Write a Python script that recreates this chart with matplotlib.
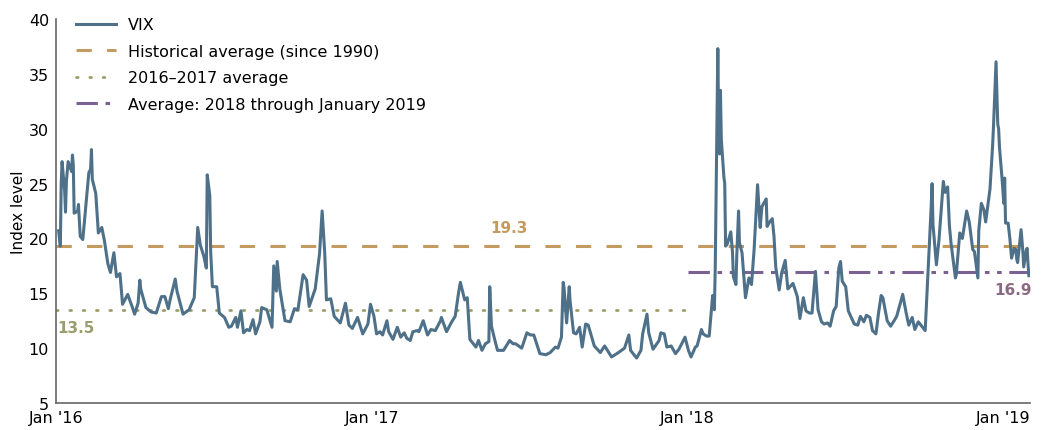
import pandas as pd
import matplotlib
matplotlib.use('Agg')
import matplotlib.pyplot as plt

plt.rcParams['font.family'] = ['DejaVu Sans']

# VIX readings (approximate)
dates_2016 = ['2016-01-04', '2016-01-06', '2016-01-07', '2016-01-08', '2016-01-11', '2016-01-12', '2016-01-13', '2016-01-15',
              '2016-01-19', '2016-01-20', '2016-01-21', '2016-01-22', '2016-01-26', '2016-01-27', '2016-01-29', '2016-02-01',
              '2016-02-03', '2016-02-05', '2016-02-08', '2016-02-10', '2016-02-11', '2016-02-12', '2016-02-16', '2016-02-19',
              '2016-02-23', '2016-02-26', '2016-03-01', '2016-03-04', '2016-03-08', '2016-03-11', '2016-03-15', '2016-03-18',
              '2016-03-24', '2016-03-29', '2016-04-01', '2016-04-05', '2016-04-07', '2016-04-08', '2016-04-14', '2016-04-20',
              '2016-04-26', '2016-05-02', '2016-05-06', '2016-05-10', '2016-05-12', '2016-05-18', '2016-05-20', '2016-05-27',
              '2016-06-03', '2016-06-09', '2016-06-13', '2016-06-16', '2016-06-20', '2016-06-23', '2016-06-24', '2016-06-27',
              '2016-06-28', '2016-06-30', '2016-07-05', '2016-07-08', '2016-07-14', '2016-07-19', '2016-07-22', '2016-07-27',
              '2016-07-29', '2016-08-02', '2016-08-05', '2016-08-09', '2016-08-12', '2016-08-16', '2016-08-19', '2016-08-24',
              '2016-08-26', '2016-09-01', '2016-09-07', '2016-09-09', '2016-09-12', '2016-09-13', '2016-09-16', '2016-09-22',
              '2016-09-28', '2016-10-03', '2016-10-07', '2016-10-13', '2016-10-17', '2016-10-20', '2016-10-27', '2016-11-01',
              '2016-11-04', '2016-11-07', '2016-11-09', '2016-11-14', '2016-11-18', '2016-11-25', '2016-12-01', '2016-12-05',
              '2016-12-09', '2016-12-15', '2016-12-21', '2016-12-27', '2016-12-30']
vix_2016 = [20.7, 19.3, 25.0, 27.0, 24.3, 22.4, 25.2, 27.0,
            26.1, 27.6, 26.7, 22.3, 22.5, 23.1, 20.2, 19.9,
            21.7, 23.4, 26.0, 26.3, 28.1, 25.4, 24.1, 20.5,
            21.0, 19.8, 17.7, 16.9, 18.7, 16.5, 16.8, 14.0,
            14.9, 13.8, 13.1, 14.1, 16.2, 15.4, 13.7, 13.3,
            13.2, 14.7, 14.7, 13.6, 14.4, 16.3, 15.2, 13.1,
            13.5, 14.6, 21.0, 19.4, 18.4, 17.3, 25.8, 23.9,
            18.8, 15.6, 15.6, 13.2, 12.8, 11.9, 12.0, 12.8,
            11.9, 13.4, 11.4, 11.7, 11.6, 12.6, 11.3, 12.4,
            13.7, 13.5, 11.9, 17.5, 15.2, 17.9, 15.4, 12.5,
            12.4, 13.6, 13.5, 16.7, 16.2, 13.8, 15.4, 18.6,
            22.5, 18.7, 14.4, 14.5, 12.9, 12.3, 14.1, 12.1,
            11.8, 12.8, 11.3, 12.2, 14.0]

dates_2017 = ['2017-01-03', '2017-01-06', '2017-01-10', '2017-01-13', '2017-01-18', '2017-01-20', '2017-01-25', '2017-01-30',
              '2017-02-03', '2017-02-07', '2017-02-10', '2017-02-14', '2017-02-17', '2017-02-22', '2017-02-24', '2017-03-01',
              '2017-03-06', '2017-03-10', '2017-03-15', '2017-03-21', '2017-03-22', '2017-03-28', '2017-04-03', '2017-04-07',
              '2017-04-11', '2017-04-13', '2017-04-18', '2017-04-21', '2017-04-24', '2017-05-01', '2017-05-04', '2017-05-08',
              '2017-05-12', '2017-05-16', '2017-05-17', '2017-05-19', '2017-05-23', '2017-05-26', '2017-06-02', '2017-06-09',
              '2017-06-13', '2017-06-16', '2017-06-23', '2017-06-29', '2017-07-03', '2017-07-07', '2017-07-14', '2017-07-21',
              '2017-07-26', '2017-08-01', '2017-08-04', '2017-08-08', '2017-08-10', '2017-08-11', '2017-08-14', '2017-08-17',
              '2017-08-18', '2017-08-22', '2017-08-25', '2017-08-29', '2017-09-01', '2017-09-05', '2017-09-08', '2017-09-15',
              '2017-09-22', '2017-09-27', '2017-10-05', '2017-10-13', '2017-10-20', '2017-10-25', '2017-10-27', '2017-11-03',
              '2017-11-08', '2017-11-10', '2017-11-15', '2017-11-17', '2017-11-22', '2017-11-29', '2017-12-01', '2017-12-05',
              '2017-12-08', '2017-12-13', '2017-12-18', '2017-12-22', '2017-12-29']
vix_2017 = [12.9, 11.3, 11.5, 11.2, 12.5, 11.5, 10.8, 11.9,
            11.0, 11.4, 10.9, 10.7, 11.5, 11.6, 11.5, 12.5,
            11.2, 11.7, 11.6, 12.5, 12.8, 11.5, 12.4, 12.9,
            15.1, 16.0, 14.4, 14.6, 10.8, 10.1, 10.7, 9.8,
            10.4, 10.6, 15.6, 12.0, 10.7, 9.8, 9.8, 10.7,
            10.4, 10.4, 10.0, 11.4, 11.2, 11.2, 9.5, 9.4,
            9.6, 10.1, 10.0, 11.0, 16.0, 15.5, 12.3, 15.6,
            14.3, 11.4, 11.3, 11.9, 10.1, 12.2, 12.1, 10.2,
            9.6, 10.2, 9.2, 9.6, 10.0, 11.2, 9.8, 9.1,
            9.8, 11.3, 13.1, 11.4, 9.9, 10.7, 11.4, 11.3,
            10.1, 10.2, 9.5, 9.9, 11.0]

dates_2018 = ['2018-01-02', '2018-01-05', '2018-01-10', '2018-01-12', '2018-01-17', '2018-01-19', '2018-01-23', '2018-01-26',
              '2018-01-29', '2018-01-30', '2018-02-01', '2018-02-02', '2018-02-05', '2018-02-06', '2018-02-07', '2018-02-08',
              '2018-02-09', '2018-02-12', '2018-02-13', '2018-02-14', '2018-02-16', '2018-02-20', '2018-02-22', '2018-02-23',
              '2018-02-26', '2018-02-27', '2018-03-01', '2018-03-02', '2018-03-05', '2018-03-09', '2018-03-13', '2018-03-16',
              '2018-03-19', '2018-03-22', '2018-03-23', '2018-03-26', '2018-03-28', '2018-04-02', '2018-04-03', '2018-04-06',
              '2018-04-09', '2018-04-11', '2018-04-13', '2018-04-17', '2018-04-20', '2018-04-24', '2018-04-27', '2018-05-03',
              '2018-05-08', '2018-05-11', '2018-05-15', '2018-05-18', '2018-05-22', '2018-05-25', '2018-05-29', '2018-06-01',
              '2018-06-05', '2018-06-08', '2018-06-12', '2018-06-15', '2018-06-19', '2018-06-22', '2018-06-25', '2018-06-27',
              '2018-06-29', '2018-07-03', '2018-07-06', '2018-07-10', '2018-07-13', '2018-07-17', '2018-07-20', '2018-07-24',
              '2018-07-27', '2018-07-31', '2018-08-03', '2018-08-07', '2018-08-10', '2018-08-13', '2018-08-15', '2018-08-20',
              '2018-08-24', '2018-08-28', '2018-08-31', '2018-09-07', '2018-09-11', '2018-09-14', '2018-09-18', '2018-09-21',
              '2018-09-25', '2018-09-28', '2018-10-03', '2018-10-05', '2018-10-10', '2018-10-11', '2018-10-12', '2018-10-16',
              '2018-10-19', '2018-10-24', '2018-10-26', '2018-10-29', '2018-10-31', '2018-11-02', '2018-11-07', '2018-11-08',
              '2018-11-12', '2018-11-15', '2018-11-20', '2018-11-23', '2018-11-27', '2018-11-29', '2018-12-03', '2018-12-04',
              '2018-12-07', '2018-12-10', '2018-12-12', '2018-12-17', '2018-12-20', '2018-12-21', '2018-12-24', '2018-12-26',
              '2018-12-27', '2018-12-28', '2018-12-31']
vix_2018 = [9.8, 9.2, 10.1, 10.2, 11.7, 11.3, 11.1, 11.1,
            13.8, 14.8, 13.5, 17.3, 37.3, 30.0, 27.7, 33.5,
            29.1, 25.6, 25.0, 19.3, 19.5, 20.6, 18.7, 16.5,
            15.8, 18.6, 22.5, 19.6, 18.7, 14.6, 16.4, 15.8,
            19.0, 23.3, 24.9, 21.0, 22.9, 23.6, 21.1, 21.5,
            21.8, 20.2, 17.4, 15.3, 16.9, 18.0, 15.4, 15.9,
            14.7, 12.7, 14.6, 13.4, 13.2, 13.2, 17.0, 13.5,
            12.4, 12.2, 12.3, 12.0, 13.4, 13.8, 17.3, 17.9,
            16.1, 15.6, 13.4, 12.7, 12.2, 12.1, 12.9, 12.4,
            13.0, 12.8, 11.6, 11.3, 13.2, 14.8, 14.6, 12.5,
            12.0, 12.5, 12.9, 14.9, 13.2, 12.1, 12.8, 11.7,
            12.4, 12.1, 11.6, 14.8, 23.0, 25.0, 21.3, 17.6,
            19.9, 25.2, 24.2, 24.7, 21.2, 19.5, 16.4, 16.7,
            20.5, 20.0, 22.5, 21.5, 19.0, 18.8, 16.4, 20.7,
            23.2, 22.6, 21.5, 24.5, 28.4, 30.1, 36.1, 30.4,
            30.0, 28.3, 25.4]

dates_2019 = ['2019-01-02', '2019-01-03', '2019-01-04', '2019-01-07', '2019-01-09', '2019-01-11', '2019-01-14', '2019-01-16',
              '2019-01-17', '2019-01-18', '2019-01-22', '2019-01-24', '2019-01-25', '2019-01-28', '2019-01-29', '2019-01-30',
              '2019-01-31']
vix_2019 = [23.2, 25.5, 21.4, 21.4, 20.0, 18.2, 19.1, 19.0,
            18.1, 17.8, 20.8, 18.9, 17.4, 18.9, 19.1, 17.7,
            16.6]

hist_avg = 19.3
avg_16_17 = 13.5
avg_18_19 = 16.9
xticks = ['2016-01-01', '2017-01-01', '2018-01-01', '2019-01-01']
xtick_labels = ["Jan '16", "Jan '17", "Jan '18", "Jan '19"]

vix = pd.Series(vix_2016 + vix_2017 + vix_2018 + vix_2019,
                index=pd.to_datetime(dates_2016 + dates_2017 + dates_2018 + dates_2019))

c_vix = '#4e7189'
c_hist = '#c39a5f'
c_1617 = '#9c9d6d'
c_18 = '#7b6192'

fig = plt.figure(figsize=(10.63, 4.31), dpi=100)
ax = fig.add_axes([0.0527, 0.0626, 0.916, 0.891])

ax.plot(vix.index, vix.values, color=c_vix, lw=2.2, label='VIX', zorder=3)
ax.plot([pd.Timestamp('2016-01-01'), pd.Timestamp('2019-02-01')], [hist_avg, hist_avg],
        color=c_hist, lw=2.2, dashes=(5, 5), label='Historical average (since 1990)', zorder=2)
ax.plot([pd.Timestamp('2016-01-01'), pd.Timestamp('2017-12-29')], [avg_16_17, avg_16_17],
        color=c_1617, lw=2, dashes=(0.6, 4.2), dash_capstyle='round', label='2016\u20132017 average', zorder=2)
ax.plot([pd.Timestamp('2018-01-01'), pd.Timestamp('2019-02-01')], [avg_18_19, avg_18_19],
        color=c_18, lw=2.2, dashes=(7, 2.5, 1.5, 2.5, 1.5, 2.5), label='Average: 2018 through January 2019', zorder=2)

ax.text(pd.Timestamp('2017-06-08'), 20.3, '19.3', color=c_hist, fontsize=11, fontweight='bold',
        ha='center', va='bottom')
ax.text(pd.Timestamp('2016-01-24'), 12.55, '13.5', color=c_1617, fontsize=11, fontweight='bold',
        ha='center', va='top')
ax.text(pd.Timestamp('2019-01-13'), 16.0, '16.9', color='#8a6a82', fontsize=11, fontweight='bold',
        ha='center', va='top')

ax.set_ylim(5, 40)
ax.set_yticks(range(5, 41, 5))
ax.set_xlim(pd.Timestamp('2016-01-01'), pd.Timestamp('2019-02-01'))
ax.set_xticks(pd.to_datetime(xticks))
ax.set_xticklabels(xtick_labels)
ax.tick_params(length=0, labelsize=11.5, pad=5)
ax.tick_params(axis='y', pad=5)
ax.set_ylabel('Index level', fontsize=11, labelpad=2)

for s in ['top', 'right']:
    ax.spines[s].set_visible(False)
for s in ['left', 'bottom']:
    ax.spines[s].set_color('#666666')
    ax.spines[s].set_linewidth(1.2)

ax.legend(loc='upper left', bbox_to_anchor=(0.012, 1.025), frameon=False, fontsize=11.5,
          handlelength=2.5, handletextpad=0.75, labelspacing=0.72, borderpad=0)

plt.savefig('out.png', dpi=100)
plt.clf()
